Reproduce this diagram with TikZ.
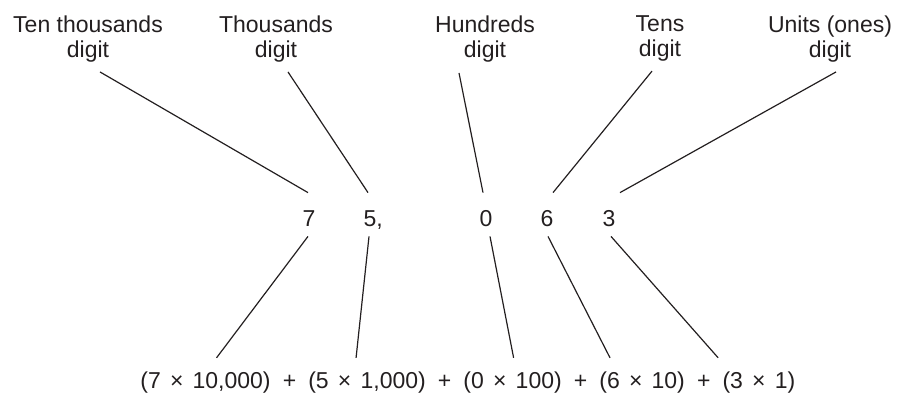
\documentclass[tikz,border=0pt]{standalone}
\usepackage{fontspec}
\setmainfont{Liberation Sans}
\usetikzlibrary{positioning}
\definecolor{ink}{HTML}{231F20}
\newcommand{\prodterm}[2]{(#1\hspace{0.4em}×\hspace{0.4em}#2)}

\begin{document}
\begin{tikzpicture}[
  x=0.5pt, y=-0.5pt,
  every node/.style={font=\fontsize{11.5pt}{12.85pt}\selectfont, text=ink, inner sep=0pt},
  place/.style={align=center, anchor=north},
  digit/.style={anchor=base, text height=8.25pt, text depth=0pt},
  term/.style={text height=8.4pt, text depth=2.4pt},
  sum/.style={inner xsep=5.65pt},
  link/.style={draw=ink, line width=0.6pt}
]
  \useasboundingbox (0,0) rectangle (908,393);

  \node[place] (tt) at (88,15) {Ten thousands\\digit};
  \node[place] (th) at (276,15) {Thousands\\digit};
  \node[place] (hu) at (485,15) {Hundreds\\digit};
  \node[place] (te) at (660,15) {Tens\\digit};
  \node[place] (un) at (830,15) {Units (ones)\\digit};

  \node[digit] (d7) at (309,226) {7};
  \node[digit] (d5) at (370,226) {5\rlap{,}};
  \node[digit] (d0) at (486,226) {0};
  \node[digit] (d6) at (547,226) {6};
  \node[digit] (d3) at (609,226) {3};

  \node[term, anchor=base west] (t1) at (140,388) {\prodterm{7}{10,000}};
  \node[sum, base right=0pt of t1] (p1) {+};
  \node[term, base right=0pt of p1] (t2) {\prodterm{5}{1,000}};
  \node[sum, base right=0pt of t2] (p2) {+};
  \node[term, base right=0pt of p2] (t3) {\prodterm{0}{100}};
  \node[sum, base right=0pt of t3] (p3) {+};
  \node[term, base right=0pt of p3] (t4) {\prodterm{6}{10}};
  \node[sum, base right=0pt of t4] (p4) {+};
  \node[term, base right=0pt of p4] (t5) {\prodterm{3}{1}};

  \draw[link] ([xshift=6pt,yshift=-4.5pt]tt.south) -- ([xshift=-0.5pt,yshift=8.25pt]d7.north);
  \draw[link] ([xshift=6pt,yshift=-4.5pt]th.south) -- ([xshift=-1pt,yshift=8.25pt]d5.north);
  \draw[link] ([xshift=-13pt,yshift=-5pt]hu.south) -- ([xshift=-1.5pt,yshift=8.25pt]d0.north);
  \draw[link] ([xshift=-4pt,yshift=-4.5pt]te.south) -- ([xshift=3pt,yshift=8.25pt]d6.north);
  \draw[link] ([xshift=3pt,yshift=-4.5pt]un.south) -- ([xshift=5.5pt,yshift=8.25pt]d3.north);

  \draw[link] ([xshift=-0.5pt,yshift=-5pt]d7.south) -- ([xshift=5.5pt,yshift=6.5pt]t1.north);
  \draw[link] ([xshift=-0.5pt,yshift=-5pt]d5.south) -- ([xshift=-5.5pt,yshift=6.5pt]t2.north);
  \draw[link] ([xshift=2pt,yshift=-5pt]d0.south) -- ([xshift=0.5pt,yshift=6.5pt]t3.north);
  \draw[link] ([xshift=0.5pt,yshift=-5pt]d6.south) -- ([xshift=5.5pt,yshift=6.5pt]t4.north west);
  \draw[link] ([xshift=1pt,yshift=-5pt]d3.south) -- ([xshift=-2pt,yshift=6.5pt]t5.north west);
\end{tikzpicture}
\end{document}
